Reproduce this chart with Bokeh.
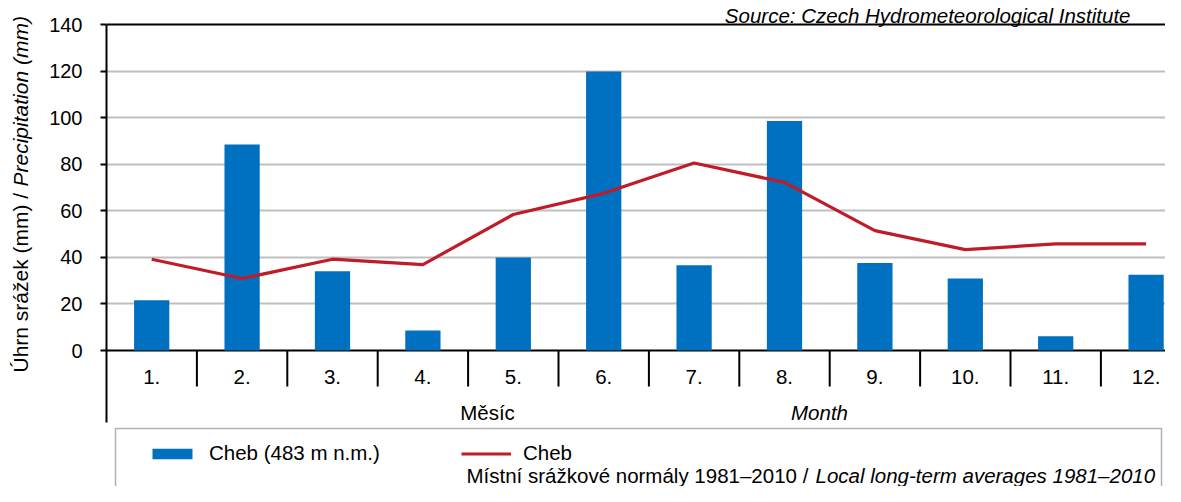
import math
from bokeh.plotting import figure
from bokeh.layouts import row
from bokeh.models import (Range1d, FixedTicker, Grid, Label, Legend, LegendItem,
                          BoxAnnotation)
from bokeh.core.properties import value
from bokeh.embed import file_html
from bokeh.resources import INLINE

# ---------------- data ----------------
months = [1, 2, 3, 4, 5, 6, 7, 8, 9, 10, 11, 12]
month_labels = ["1.", "2.", "3.", "4.", "5.", "6.", "7.", "8.", "9.", "10.", "11.", "12."]
precip_cheb = [21.6, 88.5, 34.0, 8.6, 39.9, 119.8, 36.6, 98.6, 37.6, 30.9, 6.1, 32.5]
normal_cheb = [39.2, 30.9, 39.2, 36.9, 58.4, 67.5, 80.5, 72.2, 51.5, 43.3, 45.8, 45.8]
y_ticks = [0, 20, 40, 60, 80, 100, 120, 140]
bar_label = "Cheb (483 m n.m.)"
line_label = "Cheb"
ytitle_cz = "Úhrn srážek (mm) / "
ytitle_en = "Precipitation (mm)"
xtitle_cz = "Měsíc"
xtitle_en = "Month"
note_cz = "Místní srážkové normály 1981–2010 / "
note_en = "Local long-term averages 1981–2010"
source_text = "Source: Czech Hydrometeorological Institute"

# ---------------- layout (picture pixels) ----------------
TOTAL_W, H = 1165, 486
YT_W = 40                          # strip holding the y-axis title
MAIN_W = TOTAL_W - YT_W
FL = 106                           # frame left (picture x)
CAT_PX = 90.4                      # width of one month category
Y0_PX, Y140_PX = 350, 24           # picture y of 0 mm and 140 mm
PX_PER_MM = (Y0_PX - Y140_PX) / 140.0
FONT = "Liberation Sans"
FS = "20.5px"
BLACK = "black"

x_end = 0.5 + (TOTAL_W - FL) / CAT_PX
y_top = Y0_PX / PX_PER_MM
y_bottom = -(H - Y0_PX) / PX_PER_MM


def dx(px):
    return 0.5 + (px - FL) / CAT_PX


def dy(py):
    return (Y0_PX - py) / PX_PER_MM


# ---------------- y title strip ----------------
fy = figure(width=YT_W, height=H, x_range=Range1d(0, YT_W), y_range=Range1d(H, 0),
            x_axis_location=None, y_axis_location=None,
            output_backend="svg", toolbar_location=None,
            min_border_left=0, min_border_right=0, min_border_top=0, min_border_bottom=0,
            outline_line_color=None)
fy.grid.visible = False
fy.text(x=[20, 20], y=[372, 186], text=[ytitle_cz, ytitle_en], angle=math.pi / 2,
        text_align="left", text_baseline="middle", text_font=value(FONT),
        text_font_size=value("21px"), text_color=BLACK,
        text_font_style=["normal", "italic"])

# ---------------- main chart ----------------
p = figure(width=MAIN_W, height=H, x_range=Range1d(0.5, x_end),
           y_range=Range1d(y_bottom, y_top),
           x_axis_location=None, y_axis_location="left",
           output_backend="svg", toolbar_location=None,
           min_border_left=FL - YT_W, min_border_right=0, min_border_top=0,
           min_border_bottom=0, outline_line_color=None)

p.xgrid.visible = False
p.ygrid.ticker = FixedTicker(ticks=y_ticks[1:-1])
p.ygrid.grid_line_color = "#bfbfbf"
p.ygrid.grid_line_width = 2
p.add_layout(Grid(dimension=1, ticker=FixedTicker(ticks=[y_ticks[0], y_ticks[-1]]),
                  grid_line_color=BLACK, grid_line_width=2))

ax = p.yaxis[0]
ax.ticker = FixedTicker(ticks=y_ticks, minor_ticks=[])
ax.bounds = (dy(422), y_ticks[-1])
ax.axis_line_color = BLACK
ax.axis_line_width = 2
ax.major_tick_line_color = BLACK
ax.major_tick_line_width = 2
ax.major_tick_out = 6
ax.major_tick_in = 0
ax.minor_tick_line_color = None
ax.major_label_standoff = 18
ax.major_label_text_font = FONT
ax.major_label_text_font_size = "20px"
ax.major_label_text_color = BLACK

bars = p.vbar(x=months, top=precip_cheb, bottom=0, width=0.39,
              fill_color="#0070C0", line_color=None)
line = p.line(x=months, y=normal_cheb, line_color="#C01C28", line_width=3.2)

# category separators and month labels
bounds = [m + 0.5 for m in months]
p.segment(x0=bounds, y0=[0] * len(bounds), x1=bounds, y1=[dy(386)] * len(bounds),
          line_color=BLACK, line_width=2)
p.text(x=months, y=[dy(376)] * len(months), text=month_labels,
       text_align="center", text_baseline="middle",
       text_font=value(FONT), text_font_size=value(FS), text_color=BLACK)

p.add_layout(Label(x=dx(487), y=dy(412), text=xtitle_cz, text_align="center",
                   text_baseline="middle", text_font=FONT, text_font_size=FS,
                   text_color=BLACK))
p.add_layout(Label(x=dx(819), y=dy(412), text=xtitle_en, text_align="center",
                   text_baseline="middle", text_font=FONT, text_font_size=FS,
                   text_color=BLACK, text_font_style="italic"))

# source
p.add_layout(Label(x=dx(1130), y=dy(15), text=source_text, text_align="right",
                   text_baseline="alphabetic", text_font=FONT, text_font_size=FS,
                   text_color=BLACK, text_font_style="italic"))

# legend box
p.add_layout(BoxAnnotation(left=dx(115), right=dx(1161), top=dy(428), bottom=dy(H + 40),
                           fill_color=None, fill_alpha=0, line_color=BLACK,
                           line_width=1.5))

legend = Legend(items=[LegendItem(label=bar_label, renderers=[bars]),
                       LegendItem(label=line_label, renderers=[line])],
                orientation="horizontal", location=(41, 21),
                padding=0, margin=0, spacing=0, label_standoff=12,
                glyph_width=50, glyph_height=13, label_width=252, label_height=20,
                label_text_font=FONT, label_text_font_size=FS, label_text_color=BLACK,
                border_line_color=None, background_fill_alpha=0)
p.add_layout(legend)

p.add_layout(Label(x=dx(466), y=dy(475), text=note_cz, text_align="left",
                   text_baseline="middle", text_font=FONT, text_font_size=FS,
                   text_color=BLACK))
p.add_layout(Label(x=dx(815), y=dy(475), text=note_en, text_align="left",
                   text_baseline="middle", text_font=FONT, text_font_size=FS,
                   text_color=BLACK, text_font_style="italic"))

layout = row(fy, p, spacing=0)
open("out.html", "w").write(file_html(layout, INLINE))
